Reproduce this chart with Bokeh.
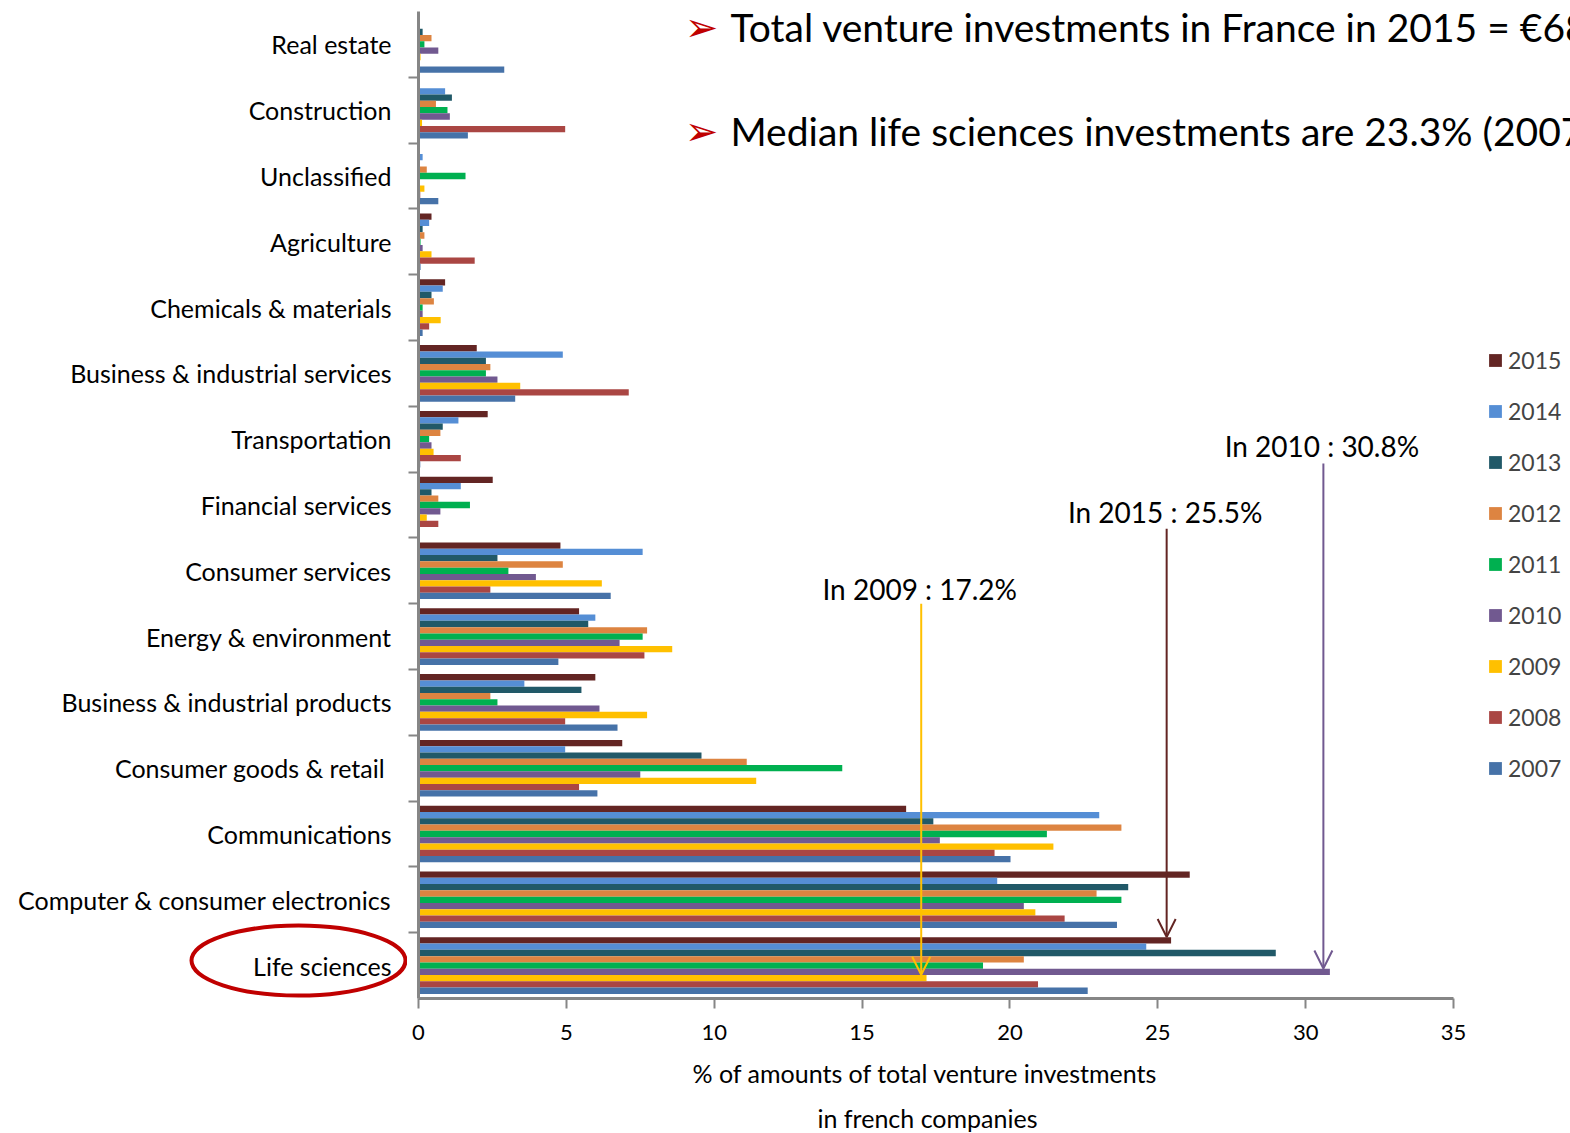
from bokeh.plotting import figure
from bokeh.layouts import row
from bokeh.models import (FactorRange, Range1d, CategoricalAxis, FixedTicker, Title,
                          Legend, LegendItem, Label, Arrow, OpenHead, ColumnDataSource)
from bokeh.core.properties import value
from bokeh.transform import dodge
from bokeh.embed import file_html
from bokeh.resources import INLINE

# ---------------- data ----------------
categories = ["Real estate", "Construction", "Unclassified", "Agriculture",
              "Chemicals & materials", "Business & industrial services",
              "Transportation", "Financial services", "Consumer services",
              "Energy & environment", "Business & industrial products",
              "Consumer goods  & retail", "Communications",
              "Computer & consumer electronics", "Life sciences"]

years = ["2015", "2014", "2013", "2012", "2011", "2010", "2009", "2008", "2007"]

v2015 = [0.0, 0.0, 0.0, 0.44, 0.90, 1.97, 2.34, 2.51, 4.80, 5.43, 5.98, 6.89, 16.49, 26.08, 25.45]
v2014 = [0.0, 0.90, 0.14, 0.36, 0.82, 4.88, 1.35, 1.43, 7.58, 5.98, 3.58, 4.96, 23.02, 19.57, 24.61]
v2013 = [0.14, 1.13, 0.0, 0.14, 0.44, 2.28, 0.82, 0.44, 2.67, 5.74, 5.51, 9.57, 17.41, 24.00, 28.99]
v2012 = [0.44, 0.59, 0.28, 0.20, 0.52, 2.43, 0.74, 0.67, 4.88, 7.73, 2.43, 11.10, 23.77, 22.93, 20.47]
v2011 = [0.20, 0.98, 1.59, 0.07, 0.14, 2.28, 0.36, 1.74, 3.04, 7.58, 2.67, 14.33, 21.25, 23.77, 19.09]
v2010 = [0.67, 1.06, 0.0, 0.14, 0.14, 2.67, 0.44, 0.74, 3.97, 6.80, 6.12, 7.50, 17.63, 20.47, 30.82]
v2009 = [0.07, 0.12, 0.20, 0.44, 0.75, 3.44, 0.51, 0.28, 6.20, 8.58, 7.73, 11.42, 21.47, 20.86, 17.18]
v2008 = [0.0, 4.96, 0.06, 1.90, 0.36, 7.11, 1.43, 0.67, 2.43, 7.64, 4.96, 5.43, 19.48, 21.85, 20.95]
v2007 = [2.90, 1.67, 0.67, 0.07, 0.14, 3.27, 0.06, 0.0, 6.50, 4.73, 6.73, 6.05, 20.02, 23.62, 22.63]

series = [v2015, v2014, v2013, v2012, v2011, v2010, v2009, v2008, v2007]
colors = ["#632523", "#558ED5", "#215968", "#DD8441", "#00B050",
          "#715990", "#FFC000", "#AA4643", "#4672A8"]

x_ticks = [0, 5, 10, 15, 20, 25, 30, 35]
x_max = 35

callout_texts = ["In 2009 : 17.2%", "In 2015 : 25.5%", "In 2010 : 30.8%"]
callout_values = [17.2, 25.5, 30.8]
callout_years = ["2009", "2015", "2010"]
callout_colors = ["#FFC000", "#632523", "#715990"]

highlight_category = "Life sciences"

headline_1 = "Total venture investments in France in 2015 = \u20ac68"
headline_2 = "Median life sciences investments are 23.3% (2007"
x_label_lines = ["% of amounts of total venture  investments", "in french companies"]

FONT = "Lato"
AXIS_GRAY = "#868686"

# ---------------- layout constants ----------------
H = 1133
TOP, BOTTOM = 11, 135          # frame borders (shared by both panels of the row)
LEFT_W = 407                   # width of the category-label panel
band_px = (H - TOP - BOTTOM) / len(categories)

y_range = FactorRange(factors=categories[::-1])

# ---------------- category label panel (left) ----------------
pl = figure(width=LEFT_W, height=H, output_backend="svg", toolbar_location=None,
            x_range=Range1d(0, LEFT_W), y_range=y_range,
            x_axis_location=None, y_axis_location=None,
            min_border_left=0, min_border_right=0,
            min_border_top=TOP, min_border_bottom=BOTTOM)
pl.title.visible = False
pl.outline_line_color = None
pl.xgrid.grid_line_color = None
pl.ygrid.grid_line_color = None

lab_src = ColumnDataSource(dict(cat=categories, x=[391] * len(categories)))
pl.text(x="x", y="cat", text="cat", source=lab_src, text_align="right",
        text_baseline="middle", text_font=value(FONT), text_font_size="25px",
        text_color="black")
ell_src = ColumnDataSource(dict(cat=[highlight_category], x=[298]))
pl.ellipse(x="x", y=dodge("cat", 5 / band_px, range=y_range), source=ell_src,
           width=214, height=70, width_units="screen", height_units="screen",
           fill_color=None, line_color="#C00000", line_width=4)

# ---------------- chart panel (right) ----------------
frame_px_per_unit = (1453 - 418) / x_max
right_w = 1570 - LEFT_W
p = figure(width=right_w, height=H, output_backend="svg", toolbar_location=None,
           y_range=y_range,
           x_range=Range1d(0, (right_w - 11) / frame_px_per_unit),
           y_axis_location=None,
           min_border_left=11, min_border_right=0, min_border_top=TOP,
           min_border_bottom=BOTTOM)
p.title.visible = False
p.outline_line_color = None
p.xgrid.grid_line_color = None
p.ygrid.grid_line_color = None
p.background_fill_color = "white"

src = ColumnDataSource(dict(cat=categories, **{"y" + y: s for y, s in zip(years, series)}))

bar_h = 0.0956
renderers = []
for j, (yr, col) in enumerate(zip(years, colors)):
    off = (4 - j) * bar_h
    r = p.hbar(y=dodge("cat", off, range=p.y_range), left=0, right="y" + yr,
               height=bar_h, source=src, fill_color=col, line_color=None)
    renderers.append(r)

# x axis (drawn from 0 to 35 only)
xa = p.xaxis[0]
xa.bounds = (0, x_max)
xa.ticker = FixedTicker(ticks=x_ticks)
xa.axis_line_color = AXIS_GRAY
xa.axis_line_width = 3
xa.major_tick_line_color = AXIS_GRAY
xa.major_tick_line_width = 2
xa.major_tick_out = 10
xa.major_tick_in = 0
xa.minor_tick_line_color = None
xa.major_label_text_font = FONT
xa.major_label_text_font_size = "22px"
xa.major_label_text_color = "black"
xa.major_label_standoff = 16

# x axis title: two left-aligned lines placed below the axis
for txt, off, so in zip(x_label_lines, [274, 399], [26, 0]):
    p.add_layout(Title(text=txt, align="left", offset=off, standoff=so,
                       text_font=FONT, text_font_size="25px",
                       text_font_style="normal", text_color="black"), "below")

# y axis with ticks on the boundaries between categories
# (a second factor range whose factor centres fall on the category boundaries)
bounds = [" " * (k + 1) for k in range(len(categories) + 1)]
p.extra_y_ranges = {"bounds": FactorRange(factors=bounds, range_padding=-0.5,
                                          range_padding_units="absolute")}
tick_axis = CategoricalAxis(y_range_name="bounds",
                            major_label_text_font_size="1px",
                            major_label_text_alpha=0,
                            major_label_standoff=0, axis_line_color=AXIS_GRAY,
                            axis_line_width=3, major_tick_line_color=AXIS_GRAY,
                            major_tick_line_width=2, major_tick_out=10, major_tick_in=0,
                            minor_tick_line_color=None)
p.add_layout(tick_axis, "left")

# legend
legend = Legend(items=[LegendItem(label=y, renderers=[r]) for y, r in zip(years, renderers)],
                location=(1069, 216), glyph_width=16, glyph_height=16, label_height=24,
                spacing=23, padding=0, margin=0, label_standoff=5,
                label_text_font=FONT, label_text_font_size="23px",
                border_line_color=None, background_fill_alpha=0)
p.add_layout(legend)

# call-outs with arrows
life_idx = 0  # Life sciences is the bottom factor
label_y = [6.23, 7.39, 8.39]
arrow_start = [6.0, 7.14, 8.13]
for txt, val, yr, col, ly, ys in zip(callout_texts, callout_values, callout_years,
                                       callout_colors, label_y, arrow_start):
    j = years.index(yr)
    bar_center = life_idx + 0.5 + (4 - j) * bar_h
    p.add_layout(Label(x=val - 0.25, y=ly, text=txt, text_align="center",
                       text_baseline="middle", text_font=FONT,
                       text_font_size="28px", text_color="black"))
    p.add_layout(Arrow(end=OpenHead(size=18, line_color=col, line_width=2),
                       x_start=val - 0.2, y_start=ys, x_end=val - 0.2,
                       y_end=bar_center + bar_h * 0.55,
                       line_color=col, line_width=2))

# headlines with red arrowhead bullets
for txt, ly in zip([headline_1, headline_2], [14.76, 13.19]):
    p.add_layout(Label(x=9.57, y=ly, text="\u27a2", text_align="center",
                       text_baseline="middle", text_font="DejaVu Sans",
                       text_font_size="40px", text_color="#C00000"))
    p.add_layout(Label(x=10.55, y=ly, text=txt, text_align="left",
                       text_baseline="middle", text_font=FONT,
                       text_font_size="39px", text_color="black"))

layout = row(pl, p)
open("out.html", "w").write(file_html(layout, INLINE))
